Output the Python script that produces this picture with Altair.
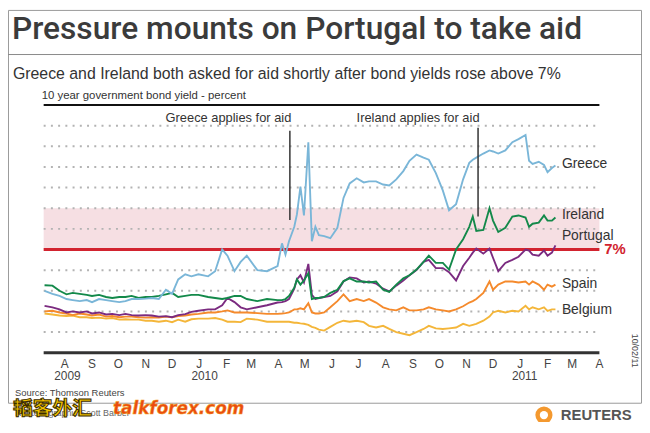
import altair as alt
import pandas as pd

FONT = "Liberation Sans, Arial, Helvetica, sans-serif"

# ---------------- data ----------------
dates = [
    "2009-07-09", "2009-07-18", "2009-07-26", "2009-08-03", "2009-08-10", "2009-08-18",
    "2009-08-26", "2009-09-01", "2009-09-09", "2009-09-17", "2009-09-24", "2009-10-02",
    "2009-10-09", "2009-10-16", "2009-10-24", "2009-11-01", "2009-11-08", "2009-11-16",
    "2009-11-24", "2009-12-01", "2009-12-08", "2009-12-16", "2009-12-23", "2009-12-31",
    "2010-01-11", "2010-01-19", "2010-01-27", "2010-02-02", "2010-02-10", "2010-02-17",
    "2010-02-24", "2010-03-08", "2010-03-19", "2010-03-31", "2010-04-05", "2010-04-09",
    "2010-04-13", "2010-04-19", "2010-04-22", "2010-04-26", "2010-04-30", "2010-05-05",
    "2010-05-09", "2010-05-13", "2010-05-17", "2010-05-23", "2010-05-30", "2010-06-07",
    "2010-06-14", "2010-06-21", "2010-06-29", "2010-07-07", "2010-07-13", "2010-07-21",
    "2010-07-29", "2010-08-05", "2010-08-13", "2010-08-21", "2010-08-28", "2010-09-05",
    "2010-09-13", "2010-09-19", "2010-09-27", "2010-10-05", "2010-10-12", "2010-10-20",
    "2010-10-28", "2010-11-04", "2010-11-08", "2010-11-12", "2010-11-20", "2010-11-27",
    "2010-12-01", "2010-12-07", "2010-12-15", "2010-12-23", "2010-12-30", "2011-01-07",
    "2011-01-11", "2011-01-15", "2011-01-22", "2011-01-28", "2011-02-01", "2011-02-06",
    "2011-02-10",
]

greece = [
    5.0, 4.85, 4.75, 4.6, 4.55, 4.5, 4.55, 4.45, 4.6, 4.55, 4.5, 4.45,
    4.5, 4.6, 4.6, 4.62, 4.65, 4.6, 5.05, 4.85, 5.55, 5.8, 5.7, 5.8,
    5.7, 5.95, 7.0, 6.7, 5.95, 6.4, 6.7, 6.0, 5.95, 6.2, 7.3, 6.75,
    7.4, 8.1, 8.7, 10.05, 8.65, 12.2, 7.4, 8.1, 7.7, 7.65, 7.55, 8.05,
    9.5, 10.2, 10.45, 10.25, 10.3, 10.3, 10.15, 10.1, 10.4, 10.8, 11.3, 11.6,
    11.45, 11.35, 10.7, 9.85, 8.9, 9.2, 10.4, 11.2, 11.35, 11.45, 11.65, 11.8,
    11.75, 11.65, 11.8, 12.2, 12.35, 12.55, 11.3, 11.15, 11.25, 11.1, 10.75, 10.95, 11.07,
]

ireland = [
    5.27, 5.25, 5.0, 4.83, 4.9, 4.85, 4.8, 4.75, 4.8, 4.7, 4.65, 4.7,
    4.7, 4.75, 4.65, 4.7, 4.7, 4.75, 4.83, 4.9, 4.7, 4.75, 4.8, 4.8,
    4.7, 4.65, 4.6, 4.65, 4.75, 4.75, 4.6, 4.5, 4.6, 4.55, 4.55, 4.6,
    4.75, 5.15, 5.55, 5.3, 5.5, 5.85, 4.6, 4.65, 4.65, 4.7, 4.9, 5.05,
    5.47, 5.6, 5.45, 5.45, 5.4, 5.45, 5.05, 4.95, 5.3, 5.6, 5.75, 6.03,
    6.4, 6.7, 6.35, 6.35, 6.03, 7.0, 7.5, 8.1, 8.6, 7.9, 7.95, 9.0,
    8.4, 7.85, 8.05, 8.6, 8.65, 8.55, 8.1, 8.25, 8.3, 8.65, 8.4, 8.4, 8.55,
]

portugal = [
    4.27, 4.2, 4.1, 3.95, 4.0, 3.95, 4.0, 3.9, 3.95, 3.85, 3.88, 3.82,
    3.88, 3.82, 3.8, 3.82, 3.8, 3.75, 3.77, 3.72, 3.82, 3.87, 3.98, 4.03,
    4.1, 4.1, 4.3, 4.65, 4.45, 4.2, 4.1, 4.2, 4.3, 4.43, 4.45, 4.5,
    4.6, 5.1, 5.55, 5.75, 5.4, 6.3, 4.8, 4.6, 4.65, 4.7, 4.75, 4.97,
    5.45, 5.65, 5.6, 5.4, 5.45, 5.35, 5.1, 4.97, 5.25, 5.5, 5.75, 6.0,
    6.4, 6.5, 6.1, 6.1, 5.9, 5.5, 6.2, 6.6, 6.85, 7.05, 6.8, 7.05,
    6.6, 5.95, 6.35, 6.5, 6.65, 7.0, 6.95, 6.75, 6.7, 6.95, 6.7, 6.85, 7.2,
]

spain = [
    4.0, 4.03, 3.95, 3.9, 3.82, 3.9, 3.85, 3.8, 3.85, 3.75, 3.78, 3.72,
    3.75, 3.75, 3.72, 3.7, 3.72, 3.7, 3.75, 3.72, 3.78, 3.8, 3.85, 3.88,
    3.95, 3.95, 4.0, 4.05, 3.95, 3.95, 3.95, 3.92, 3.88, 3.88, 3.9, 3.92,
    3.95, 4.1, 4.1, 4.15, 4.1, 4.4, 3.95, 3.9, 3.9, 3.95, 4.2, 4.5,
    4.83, 4.5, 4.6, 4.5, 4.6, 4.43, 4.2, 4.1, 4.05, 4.2, 4.05, 4.05,
    4.1, 4.2, 4.1, 4.05, 4.0, 4.1, 4.25, 4.43, 4.5, 4.6, 4.9, 5.45,
    5.05, 5.3, 5.45, 5.45, 5.4, 5.45, 5.3, 5.45, 5.3, 5.05, 5.3, 5.2, 5.3,
]

belgium = [
    3.9, 3.85, 3.8, 3.78, 3.8, 3.72, 3.72, 3.68, 3.7, 3.65, 3.68, 3.6,
    3.62, 3.6, 3.6, 3.55, 3.55, 3.5, 3.55, 3.48, 3.6, 3.5, 3.62, 3.65,
    3.65, 3.68, 3.6, 3.5, 3.5, 3.48, 3.65, 3.6, 3.5, 3.5, 3.5, 3.5,
    3.5, 3.45, 3.45, 3.42, 3.4, 3.35, 3.25, 3.2, 3.12, 3.07, 3.25, 3.45,
    3.55, 3.5, 3.55, 3.48, 3.3, 3.22, 3.3, 3.15, 3.0, 2.92, 2.85, 3.0,
    3.15, 3.3, 3.18, 3.15, 3.18, 3.22, 3.4, 3.3, 3.35, 3.4, 3.55, 3.75,
    3.95, 4.03, 3.95, 4.03, 4.0, 4.27, 4.1, 4.2, 4.1, 4.2, 4.03, 4.1, 4.1,
]

countries = ["Belgium", "Spain", "Portugal", "Ireland", "Greece"]
series = [belgium, spain, portugal, ireland, greece]
colors = ["#f4b63a", "#f58a2c", "#7b2b80", "#13894a", "#7ab6d8"]
label_y = [4.06, 5.34, 7.63, 8.65, 11.15]

grid_values = [3, 4, 5, 6, 8, 9, 10, 11, 12, 13]
y_ticks = list(range(2, 15))
band_low, band_high = 7, 9
threshold = 7

events = ["Greece applies for aid", "Ireland applies for aid"]
event_dates = ["2010-04-14", "2010-11-14"]
event_low = [8.43, 8.6]
event_high = [12.75, 12.9]
event_text_y = 13.38

month_letters = ["A", "S", "O", "N", "D", "J", "F", "M", "A", "M", "J",
                 "J", "A", "S", "O", "N", "D", "J", "F", "M", "A"]
month_dates = pd.date_range("2009-08-01", "2011-04-01", freq="MS")

years = ["2009", "2010", "2011"]
year_dates = ["2009-08-04", "2010-01-07", "2011-01-06"]

# ---------------- scales ----------------
W, H = 561, 250
x_scale = alt.Scale(domain=[alt.DateTime(year=2009, month=7, date=8),
                            alt.DateTime(year=2011, month=4, date=1)])
y_scale = alt.Scale(domain=[2, 14], nice=False, zero=False)

y_axis = alt.Axis(values=y_ticks, domain=False, ticks=False, grid=False, labelPadding=7,
                  labelFontSize=12, labelColor="#444", labelFont=FONT, title=None)

one = pd.DataFrame({"k": [0]})


def txt(t, x, y, size=12, color="#333", align="left", baseline="alphabetic",
        weight="normal", font=FONT, angle=0, **kw):
    return alt.Chart(pd.DataFrame({"t": [t]})).mark_text(
        align=align, baseline=baseline, fontSize=size, color=color, fontWeight=weight,
        font=font, angle=angle, **kw
    ).encode(x=alt.value(x), y=alt.value(y), text="t:N")


# ---------------- layers ----------------
border = alt.Chart(one).mark_rect(fillOpacity=0, stroke="#9a9a9a", strokeWidth=1).encode(
    x=alt.value(-35.5), x2=alt.value(603.5), y=alt.value(-95.5), y2=alt.value(301))

title_rule = alt.Chart(one).mark_rule(color="#8a8a8a", strokeWidth=1).encode(
    x=alt.value(-36), x2=alt.value(604), y=alt.value(-51))

band = alt.Chart(pd.DataFrame({"lo": [band_low], "hi": [band_high]})).mark_rect(
    color="#f6dfe3").encode(
    y=alt.Y("lo:Q", scale=y_scale, axis=None), y2="hi:Q",
    x=alt.value(0), x2=alt.value(W))

grid = alt.Chart(pd.DataFrame({"v": grid_values})).mark_rule(
    color="#b3b3b3", strokeWidth=2, strokeDash=[2, 5.3]).encode(
    y=alt.Y("v:Q", scale=y_scale, axis=y_axis), x=alt.value(0), x2=alt.value(W))

top_rule = alt.Chart(pd.DataFrame({"v": [14]})).mark_rule(color="#111", strokeWidth=2).encode(
    y=alt.Y("v:Q", scale=y_scale, axis=None), x=alt.value(0), x2=alt.value(W))
base_rule = alt.Chart(pd.DataFrame({"v": [2]})).mark_rule(color="#333", strokeWidth=3).encode(
    y=alt.Y("v:Q", scale=y_scale, axis=None), x=alt.value(0), x2=alt.value(W))

red_df = pd.DataFrame({"v": [threshold], "t": ["7%"]})
red_rule = alt.Chart(red_df).mark_rule(color="#d2232f", strokeWidth=3).encode(
    y=alt.Y("v:Q", scale=y_scale, axis=None), x=alt.value(0), x2=alt.value(W))
red_label = alt.Chart(red_df).mark_text(align="left", baseline="middle", fontSize=15,
                                        fontWeight="bold", color="#d2232f", font=FONT).encode(
    y=alt.Y("v:Q", scale=y_scale, axis=None), x=alt.value(566), text="t:N")

line_layers = []
for name, vals, col in zip(countries, series, colors):
    df = pd.DataFrame({"date": pd.to_datetime(dates), "yield": vals})
    line_layers.append(
        alt.Chart(df).mark_line(color=col, strokeWidth=1.9).encode(
            x=alt.X("date:T", scale=x_scale, axis=None),
            y=alt.Y("yield:Q", scale=y_scale, axis=None),
        )
    )

lab_df = pd.DataFrame({"country": countries, "date": pd.to_datetime([dates[-1]] * 5),
                       "y": label_y})
series_labels = alt.Chart(lab_df).mark_text(
    align="left", baseline="middle", dx=6.5, fontSize=14, color="#333", font=FONT).encode(
    x=alt.X("date:T", scale=x_scale, axis=None),
    y=alt.Y("y:Q", scale=y_scale, axis=None), text="country:N")

ev_df = pd.DataFrame({"label": events, "date": pd.to_datetime(event_dates),
                      "lo": event_low, "hi": event_high, "ty": [event_text_y] * 2})
ev_rules = alt.Chart(ev_df).mark_rule(color="#333", strokeWidth=1.5).encode(
    x=alt.X("date:T", scale=x_scale, axis=None),
    y=alt.Y("lo:Q", scale=y_scale, axis=None), y2="hi:Q")
ev_text = alt.Chart(ev_df).mark_text(
    align="right", baseline="middle", dx=1.5, fontSize=13, color="#333", font=FONT).encode(
    x=alt.X("date:T", scale=x_scale, axis=None),
    y=alt.Y("ty:Q", scale=y_scale, axis=None), text="label:N")

mo_df = pd.DataFrame({"m": month_letters, "date": month_dates})
month_text = alt.Chart(mo_df).mark_text(
    align="center", baseline="middle", fontSize=12, color="#444", font=FONT).encode(
    x=alt.X("date:T", scale=x_scale, axis=None), y=alt.value(261), text="m:N")

yr_df = pd.DataFrame({"year": years, "date": pd.to_datetime(year_dates)})
year_text = alt.Chart(yr_df).mark_text(
    align="center", baseline="middle", fontSize=12, color="#444", font=FONT).encode(
    x=alt.X("date:T", scale=x_scale, axis=None), y=alt.value(274), text="year:N")

title = txt("Pressure mounts on Portugal to take aid", -32, -67, size=32,
            color="#3b3b3b", weight=500, font="Roboto, Liberation Sans, sans-serif")
subtitle = txt("Greece and Ireland both asked for aid shortly after bond yields rose above 7%",
               -31, -26, size=16, color="#333")
axis_title = txt("10 year government bond yield - percent", -2, -6, size=11.5, color="#333")
source = txt("Source: Thomson Reuters", -29, 291, size=9.5, color="#444", baseline="middle")
stamp = txt("10/02/11", 597, 248, size=9, color="#444", align="center",
            baseline="middle", angle=90)
credit = txt("Reuters graphic/Scott Barber", -29, 311, size=9, color="#666", baseline="middle")
wm_cn = txt("韬客外汇", -31, 307, size=20, color="#f3c300", baseline="middle", weight="bold",
            font="Noto Sans CJK SC", stroke="#3b2c00", strokeWidth=1)
wm_en = txt("talkforex.com", 70, 307, size=17, color="#ea4a12", baseline="middle",
            weight="bold", font="DejaVu Sans", fontStyle="italic", stroke="#f3a51c",
            strokeWidth=0.5)

logo_df = pd.DataFrame({"k": [0]})
logo_outer = alt.Chart(logo_df).mark_point(shape="circle", filled=True, size=300,
                                           color="#f4992f", opacity=1).encode(
    x=alt.value(505), y=alt.value(313))
logo_inner = alt.Chart(logo_df).mark_point(shape="circle", filled=True, size=70,
                                           color="white", opacity=1).encode(
    x=alt.value(505), y=alt.value(313))
reuters = txt("REUTERS", 522, 313, size=15, color="#555", baseline="middle", weight="bold")

chart = alt.layer(
    border, title_rule, band, grid, top_rule, base_rule, red_rule,
    *line_layers, series_labels, red_label, ev_rules, ev_text, month_text, year_text,
    title, subtitle, axis_title, source, stamp, credit, wm_cn, wm_en,
    logo_outer, logo_inner, reuters,
).properties(
    width=W, height=H,
    padding={"left": 36, "top": 96, "right": 43, "bottom": 68},
    autosize=alt.AutoSizeParams(type="none"),
    background="white",
).configure_view(stroke=None)

chart.save("out.html", embed_options={"renderer": "svg", "actions": False})
